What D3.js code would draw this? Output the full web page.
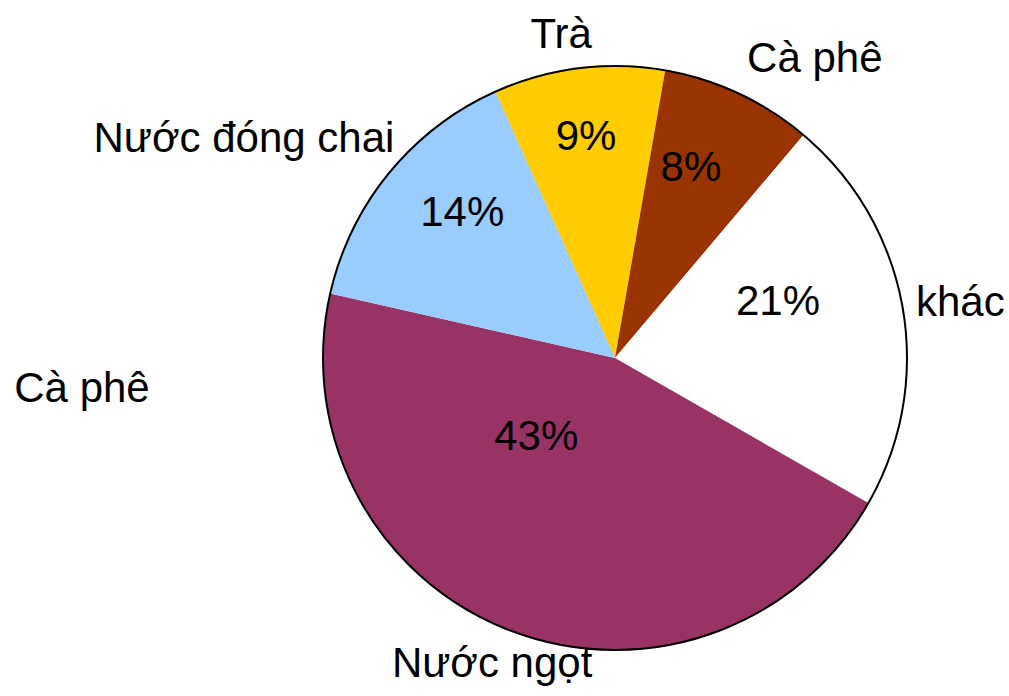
<!DOCTYPE html>
<html>
<head>
<meta charset="utf-8">
<script src="https://cdn.jsdelivr.net/npm/d3@7"></script>
<style>
  html, body { margin: 0; padding: 0; background: #fff; }
  svg { display: block; }
</style>
</head>
<body>
<div id="container"></div>
<script>
(function(){

    // data
    const categories = ["Trà", "Cà phê", "khác", "Nước ngọt", "Nước đóng chai"];
    const values     = [9, 8, 21, 43, 14];
    const colors     = ["#FFCC00", "#993300", "#FFFFFF", "#993366", "#99CCFF"];
    const strayLabel = "Cà phê"; // extra label left of the pie

    const width = 1009;
    const height = 696;
    const cx = 615, cy = 358;
    const radius = 292;
    const startDeg = -24.2; // where the first slice begins (clockwise from 12 o'clock)
    const fontSize = 42;

    // label placement, polar [angle deg, distance px] from the centre (Excel puts them by hand)
    const pctPos  = [[-7.4, 225], [21.5, 207], [70.4, 173], [225.7, 110], [313.9, 212]];
    const namePos = [[-9.4, 330], [33.6, 361], [80.6, 350], [202, 328], [300.8, 432]];
    const strayPos = [82, 387];

    const rad = d => d * Math.PI / 180;

    const data = categories.map((name, i) => ({name, value: values[i], color: colors[i], i}));

    const pie = d3.pie()
        .value(d => d.value)
        .sort(null)
        .startAngle(rad(startDeg))
        .endAngle(rad(startDeg) + 2 * Math.PI);

    const arc = d3.arc().innerRadius(0).outerRadius(radius);

    const svg = d3.select("#container").append("svg")
        .attr("width", width)
        .attr("height", height);

    const g = svg.append("g").attr("transform", `translate(${cx},${cy})`);

    g.selectAll("path.slice")
        .data(pie(data))
        .join("path")
        .attr("class", "slice")
        .attr("d", arc)
        .attr("fill", d => d.data.color);

    g.append("circle")
        .attr("r", radius)
        .attr("fill", "none")
        .attr("stroke", "#000")
        .attr("stroke-width", 2);

    const font = "'Liberation Sans', Arial, sans-serif";

    g.selectAll("text.pct")
        .data(data)
        .join("text")
        .attr("class", "pct")
        .attr("transform", d => `translate(${d3.pointRadial(rad(pctPos[d.i][0]), pctPos[d.i][1])})`)
        .attr("text-anchor", "middle")
        .attr("dy", "0.36em")
        .style("font", `${fontSize}px ${font}`)
        .attr("fill", "#000")
        .text(d => d.value + "%");

    g.selectAll("text.name")
        .data(data)
        .join("text")
        .attr("class", "name")
        .attr("transform", d => `translate(${d3.pointRadial(rad(namePos[d.i][0]), namePos[d.i][1])})`)
        .attr("text-anchor", "middle")
        .attr("dy", "0.36em")
        .style("font", `${fontSize}px ${font}`)
        .attr("fill", "#000")
        .text(d => d.name);

    svg.append("text")
        .attr("x", strayPos[0])
        .attr("y", strayPos[1])
        .attr("text-anchor", "middle")
        .attr("dy", "0.36em")
        .style("font", `${fontSize}px ${font}`)
        .attr("fill", "#000")
        .text(strayLabel);

})();
</script>
</body>
</html>
